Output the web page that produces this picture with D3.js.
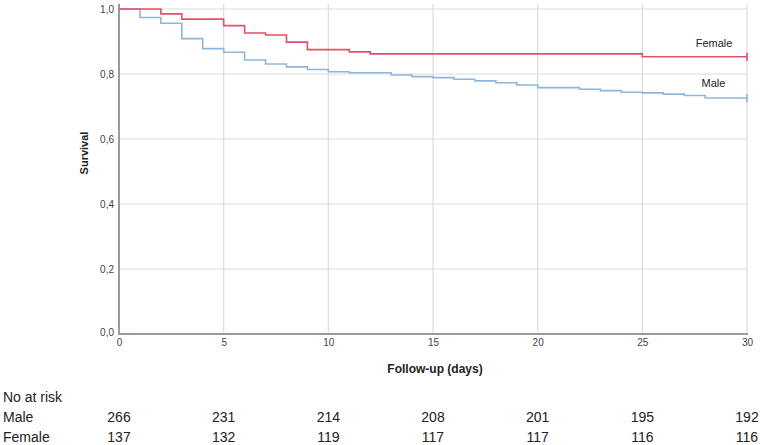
<!DOCTYPE html>
<html><head><meta charset="utf-8">
<script src="https://cdnjs.cloudflare.com/ajax/libs/d3/7.8.5/d3.min.js"></script>
<style>
html,body{margin:0;padding:0;background:#fff;}
svg{display:block;font-family:"Liberation Sans",Arial,sans-serif;}
</style></head>
<body><svg id="c" width="760" height="445"></svg>
<script>
// Kaplan-Meier step data (time in days, survival)
const femaleTimes = [0, 2, 3, 5, 6, 7, 8, 9, 11, 12, 25, 30];
const femaleSurv  = [1.0, 0.985, 0.969, 0.949, 0.926, 0.920, 0.898, 0.875, 0.868, 0.862, 0.853, 0.853];
const maleTimes = [0, 1, 2, 3, 4, 5, 6, 7, 8, 9, 10, 11, 13, 14, 15, 16, 17, 18, 19, 20, 22, 23, 24, 25, 26, 27, 28, 30];
const maleSurv  = [1.0, 0.974, 0.956, 0.909, 0.878, 0.867, 0.843, 0.831, 0.822, 0.814, 0.807, 0.804, 0.797, 0.792, 0.789, 0.784, 0.779, 0.773, 0.766, 0.758, 0.753, 0.749, 0.744, 0.742, 0.738, 0.734, 0.726, 0.726];
const xTicks = [0, 5, 10, 15, 20, 25, 30];
const yTicks = [0, 0.2, 0.4, 0.6, 0.8, 1.0];
const riskTimes = [0, 5, 10, 15, 20, 25, 30];
const riskMale = [266, 231, 214, 208, 201, 195, 192];
const riskFemale = [137, 132, 119, 117, 117, 116, 116];
const groupNames = ["Female", "Male"];

const svg = d3.select("#c");
const x = d3.scaleLinear().domain([0, 30]).range([119, 747]);
const y = d3.scaleLinear().domain([0, 1]).range([334, 9]);

// gridlines
svg.append("g").selectAll("line").data(yTicks.filter(d => d > 0)).join("line")
  .attr("x1", x(0)).attr("x2", x(30)).attr("y1", d => y(d)).attr("y2", d => y(d))
  .attr("stroke", "#dcdcdc").attr("stroke-width", 1.2);
svg.append("g").selectAll("line").data(xTicks.filter(d => d > 0)).join("line")
  .attr("x1", d => x(d)).attr("x2", d => x(d)).attr("y1", y(1) - 5).attr("y2", y(0))
  .attr("stroke", "#dcdcdc").attr("stroke-width", 1.2);

// axes lines
svg.append("line").attr("x1", x(0)).attr("x2", x(0)).attr("y1", y(1) - 5).attr("y2", y(0))
  .attr("stroke", "#9a9a9a").attr("stroke-width", 2);
svg.append("line").attr("x1", x(0) - 1).attr("x2", x(30) + 1).attr("y1", y(0)).attr("y2", y(0))
  .attr("stroke", "#9a9a9a").attr("stroke-width", 2);

// tick labels
const yAxis = d3.axisLeft(y).tickValues(yTicks).tickSize(0).tickPadding(5)
  .tickFormat(d => d3.format(".1f")(d).replace(".", ","));
const gy = svg.append("g").attr("transform", `translate(${x(0)},0)`).call(yAxis);
gy.select(".domain").remove();
gy.selectAll("text").attr("fill", "#444").style("font-size", "10px")
  .style("font-family", '"Liberation Sans",Arial,sans-serif');
gy.selectAll(".tick").filter(d => d === 0).select("text").attr("dy", "0.1em");

const xAxis = d3.axisBottom(x).tickValues(xTicks).tickSize(0).tickPadding(5);
const gx = svg.append("g").attr("transform", `translate(0,${y(0)})`).call(xAxis);
gx.select(".domain").remove();
gx.selectAll("text").attr("fill", "#444").style("font-size", "10px")
  .style("font-family", '"Liberation Sans",Arial,sans-serif');

// curves
const line = d3.line().x(d => x(d[0])).y(d => y(d[1])).curve(d3.curveStepAfter);
const female = femaleTimes.map((t, i) => [t, femaleSurv[i]]);
const male = maleTimes.map((t, i) => [t, maleSurv[i]]);
svg.append("path").datum(male).attr("d", line).attr("fill", "none")
  .attr("stroke", "#8db6de").attr("stroke-width", 1.6);
svg.append("path").datum(female).attr("d", line).attr("fill", "none")
  .attr("stroke", "#e2506a").attr("stroke-width", 1.6);

// censor marks at end
[[female, "#e2506a"], [male, "#8db6de"]].forEach(([s, c]) => {
  const last = s[s.length - 1];
  svg.append("line").attr("x1", x(last[0])).attr("x2", x(last[0]))
    .attr("y1", y(last[1]) - 4).attr("y2", y(last[1]) + 4)
    .attr("stroke", c).attr("stroke-width", 1.6);
});

// group labels
svg.append("text").attr("x", 714).attr("y", 46.5).attr("text-anchor", "middle")
  .style("font-size", "11px").attr("fill", "#222").text(groupNames[0]);
svg.append("text").attr("x", 713.5).attr("y", 87).attr("text-anchor", "middle")
  .style("font-size", "11px").attr("fill", "#222").text(groupNames[1]);

// axis titles
svg.append("text").attr("transform", "translate(88,153) rotate(-90)").attr("text-anchor", "middle")
  .style("font-size", "11px").style("font-weight", "bold").attr("fill", "#222").text("Survival");
svg.append("text").attr("x", 435).attr("y", 373).attr("text-anchor", "middle")
  .style("font-size", "12px").style("font-weight", "bold").attr("fill", "#222").text("Follow-up (days)");

// number at risk table
svg.append("text").attr("x", 3).attr("y", 402).style("font-size", "14px").attr("fill", "#222").text("No at risk");
svg.append("text").attr("x", 3).attr("y", 422).style("font-size", "14px").attr("fill", "#222").text("Male");
svg.append("text").attr("x", 3).attr("y", 442).style("font-size", "14px").attr("fill", "#222").text("Female");
svg.append("g").selectAll("text").data(riskTimes).join("text")
  .attr("x", d => x(d)).attr("y", 422).attr("text-anchor", "middle")
  .style("font-size", "14px").attr("fill", "#222").text((d, i) => riskMale[i]);
svg.append("g").selectAll("text").data(riskTimes).join("text")
  .attr("x", d => x(d)).attr("y", 442).attr("text-anchor", "middle")
  .style("font-size", "14px").attr("fill", "#222").text((d, i) => riskFemale[i]);
</script></body></html>
